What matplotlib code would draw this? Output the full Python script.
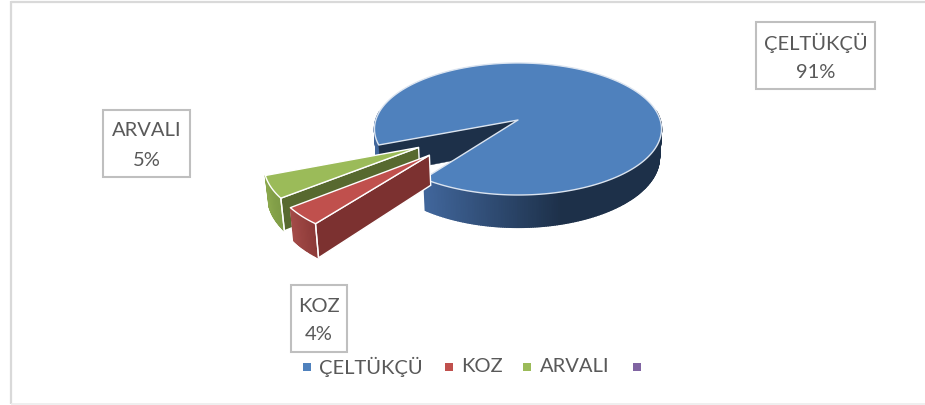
import numpy as np
import matplotlib
matplotlib.use("Agg")
import matplotlib.pyplot as plt
from matplotlib.colors import to_rgb
from matplotlib.patches import Polygon, Rectangle

categories = ["ÇELTÜKÇÜ", "KOZ", "ARVALI", ""]
values = [91, 4, 5, 0]
percent_labels = ["91%", "4%", "5%"]
top_colors = ["#4f81bd", "#c0504d", "#9bbb59", "#8064a2"]
cut_colors = ["#1d3049", "#7c3130", "#57692f"]
rim_light = ["#40659a", "#a44b48", "#8ba84d"]
rim_dark = ["#1d3049", "#8c3a38", "#7d9a45"]
explode_radius = [0.0, 0.77, 0.773]
explode_angle = [0.0, 228.9, 238.8]
label_boxes = [(756, 22, 875, 89), (291, 285, 347, 352), (103, 110, 190, 177)]
legend_markers = [303, 445, 523, 633]
legend_text = [319, 461, 540]

START = 248.5
CX, CY = 518.0, 120.0
RX, RY, K = 142.2, 64.8, 0.136
H = 28.0
TEXT = "#595959"
FONT = "Lato"

fig = plt.figure(figsize=(9.25, 4.05), dpi=100)
ax = fig.add_axes([0, 0, 1, 1])
ax.set_xlim(0, 925)
ax.set_ylim(405, 0)
ax.axis("off")


def project(u, v, bottom=False):
    u, v = np.asarray(u, float), np.asarray(v, float)
    d = 1 - K * v
    x = RX * u / d
    y = RY * v / d
    if bottom:
        return CX + x * 0.985, CY + y + H / d
    return CX + x, CY + y


def disc(phi):
    r = np.radians(phi)
    return np.sin(r), -np.cos(r)


def mix(a, b, t):
    a, b = np.array(to_rgb(a)), np.array(to_rgb(b))
    return tuple(a + (b - a) * float(np.clip(t, 0, 1)))


# frame
ax.plot((11, 11), (1, 404), color="#d9d9d9", lw=1.6, solid_capstyle="butt", zorder=0)
ax.plot((11, 925), (1.5, 1.5), color="#d9d9d9", lw=1.6, solid_capstyle="butt", zorder=0)
ax.plot((11, 925), (404, 404), color="#ececec", lw=1.2, solid_capstyle="butt", zorder=0)


def wedge(i, start, sweep, z):
    off_u = off_v = 0.0
    if explode_radius[i]:
        off_u, off_v = disc(explode_angle[i])
        off_u, off_v = off_u * explode_radius[i], off_v * explode_radius[i]
    phis = np.linspace(start, start + sweep, max(int(sweep * 1.5), 12))
    ru, rv = disc(phis)
    us, vs = ru + off_u, rv + off_v

    # start-edge cut face, visible from the viewer
    tx0, ty0 = project(off_u, off_v)
    bx0, by0 = project(off_u, off_v, True)
    tx1, ty1 = project(us[0], vs[0])
    bx1, by1 = project(us[0], vs[0], True)
    ax.add_patch(Polygon([(tx0, ty0), (tx1, ty1), (bx1, by1), (bx0, by0)], closed=True,
                         fc=cut_colors[i], ec="white" if i else cut_colors[i],
                         lw=1.0 if i else 0.3, zorder=z + 1))

    # outer rim, painted strip by strip
    for j in range(len(phis) - 1):
        if (vs[j] + vs[j + 1]) / 2 - off_v < -0.14:
            continue
        a = project(us[j], vs[j])
        b = project(us[j + 1], vs[j + 1])
        c = project(us[j + 1], vs[j + 1], True)
        d = project(us[j], vs[j], True)
        if i == 0:
            t = (a[0] - 427) / 135
        else:
            t = 1 - (j / (len(phis) - 1))
        col = mix(rim_light[i], rim_dark[i], t)
        ax.add_patch(Polygon([a, b, c, d], closed=True, fc=col, ec=col, lw=1.0, zorder=z))

    # top surface
    px, py = project(us, vs)
    pts = np.column_stack([np.r_[tx0, px], np.r_[ty0, py]])
    ax.add_patch(Polygon(pts, closed=True, fc=top_colors[i],
                         ec="#dbe4f0" if i == 0 else "white", lw=1.0, zorder=z + 2,
                         joinstyle="round"))
    if i:
        ax.plot([bx1, tx1], [by1, ty1], color="white", lw=1.0, zorder=z + 3)
        ex, ey = project(us[-1], vs[-1])
        fx, fy = project(us[-1], vs[-1], True)
        ax.plot([ex, fx], [ey, fy], color="white", lw=0.7, zorder=z - 0.5)


angle = START
zs = [2, 12, 8]
for i in range(3):
    sweep = values[i] / sum(values) * 360
    wedge(i, angle, sweep, zs[i])
    angle += sweep

# data labels
for i, (x0, y0, x1, y1) in enumerate(label_boxes):
    ax.add_patch(Rectangle((x0, y0), x1 - x0, y1 - y0, fc="white", ec="#bfbfbf", lw=1.5, zorder=20))
    mid = (x0 + x1) / 2
    ax.text(mid, y0 + 21, categories[i], ha="center", va="center", color=TEXT,
            fontsize=14.5, family=FONT, zorder=21)
    ax.text(mid, y0 + 50, percent_labels[i], ha="center", va="center", color=TEXT,
            fontsize=14.5, family=FONT, zorder=21)

# legend
for i, mx in enumerate(legend_markers):
    ax.add_patch(Rectangle((mx, 363), 8, 8, fc=top_colors[i], ec="none", zorder=20))
    if categories[i]:
        ax.text(legend_text[i], 367, categories[i], ha="left", va="center", color=TEXT,
                fontsize=14.5, family=FONT, zorder=21)

fig.savefig("out.png", dpi=100, facecolor="white")
